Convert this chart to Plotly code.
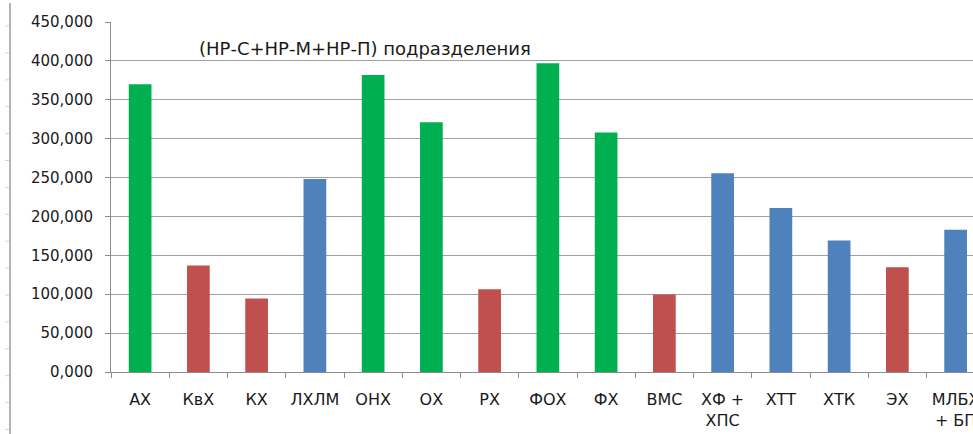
import plotly.graph_objects as go

# ---- data ----
categories = ["АХ", "КвХ", "КХ", "ЛХЛМ", "ОНХ", "ОХ", "РХ", "ФОХ", "ФХ", "ВМС",
              "ХФ +<br>ХПС", "ХТТ", "ХТК", "ЭХ", "МЛБХ<br>+ БП"]
values = [370, 137, 94.5, 248, 382, 321, 106.5, 397, 308, 99.5,
          255.5, 211, 169, 134.6, 183]
groups = ["g", "r", "r", "b", "g", "g", "r", "g", "g", "r",
          "b", "b", "b", "r", "b"]
y_tick_vals = [0, 50, 100, 150, 200, 250, 300, 350, 400, 450]
y_tick_text = ["0,000", "50,000", "100,000", "150,000", "200,000", "250,000",
               "300,000", "350,000", "400,000", "450,000"]
title_text = "(НР-С+НР-М+НР-П) подразделения"

# ---- styles ----
palette = {"g": "#00B050", "r": "#C0504D", "b": "#4F81BD"}
bar_colors = [palette[g] for g in groups]
FONT = "DejaVu Sans"
W, H = 973, 434
ML, MR, MT, MB = 111, 0, 22, 62
PW, PH = W - ML - MR, H - MT - MB
CAT_W = 58.25


def px_x(px):
    return (px - ML) / PW


def px_y(py):
    return (H - MB - py) / PH


fig = go.Figure(go.Bar(
    x=categories, y=values,
    marker=dict(color=bar_colors, line=dict(width=0)),
    hoverinfo="x+y",
))

shapes = [dict(type="line", xref="paper", yref="paper",
               x0=px_x(10), x1=px_x(10), y0=px_y(3), y1=px_y(H),
               line=dict(color="#B4B4B4", width=2))]
k = 0
while 26 + 26.9 * k < H:
    yy = 26 + 26.9 * k
    shapes.append(dict(type="line", xref="paper", yref="paper",
                       x0=px_x(5), x1=px_x(9), y0=px_y(yy), y1=px_y(yy),
                       line=dict(color="#D4D4D4", width=1)))
    k += 1

fig.update_layout(
    width=W, height=H,
    margin=dict(l=ML, r=MR, t=MT, b=MB, pad=0, autoexpand=False),
    paper_bgcolor="white", plot_bgcolor="white",
    showlegend=False,
    bargap=0.61,
    font=dict(family=FONT, size=15, color="#1a1a1a"),
    shapes=shapes,
    annotations=[dict(text=title_text, xref="paper", yref="paper",
                      x=px_x(197), y=px_y(48), xanchor="left", yanchor="middle",
                      showarrow=False, font=dict(family=FONT, size=18, color="#1a1a1a"))],
    xaxis=dict(
        type="category", range=[-0.5, -0.5 + PW / CAT_W], automargin=False,
        showgrid=False, showline=True, linecolor="#8C8C8C", linewidth=1,
        ticks="outside", tickson="boundaries", ticklen=5, tickcolor="#8C8C8C",
        tickangle=0, ticklabelstandoff=13,
        tickfont=dict(family=FONT, size=16, color="#1a1a1a"),
        fixedrange=True,
    ),
    yaxis=dict(
        range=[0, 450], tickvals=y_tick_vals, ticktext=y_tick_text, automargin=False,
        showgrid=True, gridcolor="#A0A0A0", gridwidth=1,
        showline=True, linecolor="#8C8C8C", linewidth=1,
        ticks="outside", ticklen=5, tickcolor="#8C8C8C",
        ticklabelstandoff=9, zeroline=False,
        tickfont=dict(family=FONT, size=15, color="#1a1a1a"),
        fixedrange=True,
    ),
)

fig.write_html("out.html", config={"displayModeBar": False, "responsive": False},
               post_script="document.body.style.margin='0';")
